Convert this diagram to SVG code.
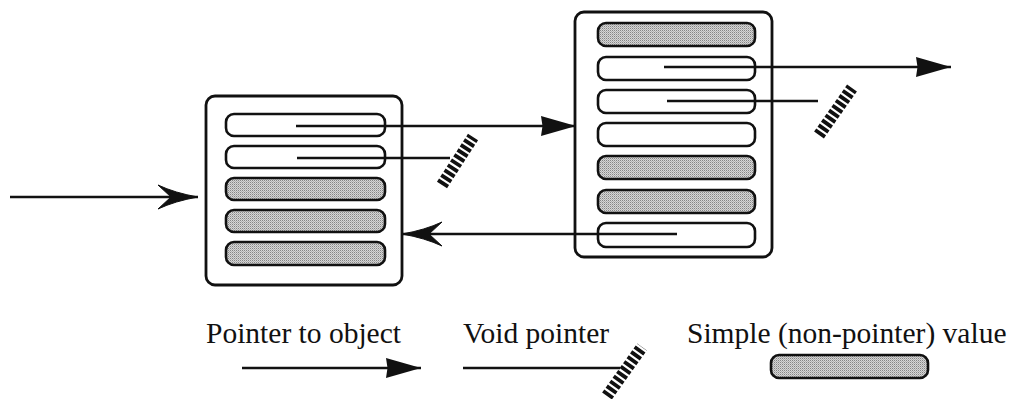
<svg xmlns="http://www.w3.org/2000/svg" width="1009" height="399" viewBox="0 0 1009 399">
  <style>
    .frame { fill: #ffffff; stroke: #111; stroke-width: 2.8; }
    .slot { fill: #ffffff; stroke: #111; stroke-width: 2.6; }
    .slot.simple { fill: url(#stipple); }
    .wire { fill: none; stroke: #111; stroke-width: 2.6; }
    .ptr { marker-end: url(#solidHead); }
    .ret { marker-end: url(#barbHead); }
    .hatch { fill: none; stroke: #111; stroke-width: 12; stroke-dasharray: 3.8 2.2; }
    .label { font-family: "Liberation Serif", "Times New Roman", serif; font-size: 29.5px; fill: #111; }
  </style>
  <defs>
    <!-- fine stipple used for non-pointer value slots -->
    <pattern id="stipple" width="2" height="2" patternUnits="userSpaceOnUse">
      <rect width="2" height="2" fill="#d6d6d6"/>
      <rect width="1" height="1" fill="#858585"/>
      <rect x="1" y="1" width="1" height="1" fill="#b0b0b0"/>
    </pattern>
    <marker id="solidHead" markerUnits="userSpaceOnUse" markerWidth="40" markerHeight="26" viewBox="-2 -13 40 26" refX="35" refY="0" orient="auto">
      <path d="M35,0 L0,-10 L1.5,0 L0,10 Z" fill="#111"/>
    </marker>
    <marker id="barbHead" markerUnits="userSpaceOnUse" markerWidth="46" markerHeight="30" viewBox="-2 -15 46 30" refX="40" refY="0" orient="auto">
      <path d="M40,0 Q17,-4 0,-12 L13,0 L0,12 Q17,4 40,0 Z" fill="#111" stroke="#111" stroke-width="1"/>
    </marker>
  </defs>

  <!-- object reached from the incoming reference -->
  <g id="object-a">
    <rect class="frame" x="206" y="96" width="196" height="189" rx="9"/>
    <rect class="slot" x="226" y="114" width="159" height="22" rx="8"/>
    <rect class="slot" x="226" y="146" width="159" height="22" rx="8"/>
    <rect class="slot simple" x="226" y="178" width="159" height="22" rx="8"/>
    <rect class="slot simple" x="226" y="210" width="159" height="22" rx="8"/>
    <rect class="slot simple" x="226" y="242" width="159" height="23" rx="8"/>
  </g>

  <!-- second object -->
  <g id="object-b">
    <rect class="frame" x="575" y="12" width="197" height="245" rx="9"/>
    <rect class="slot simple" x="598" y="23" width="157" height="23" rx="8"/>
    <rect class="slot" x="598" y="57" width="157" height="23" rx="8"/>
    <rect class="slot" x="598" y="90" width="157" height="23" rx="8"/>
    <rect class="slot" x="598" y="123" width="157" height="23" rx="8"/>
    <rect class="slot simple" x="598" y="156" width="157" height="23" rx="8"/>
    <rect class="slot simple" x="598" y="190" width="157" height="23" rx="8"/>
    <rect class="slot" x="598" y="223" width="157" height="24" rx="8"/>
  </g>

  <!-- references between objects -->
  <g id="connectors">
    <line class="wire ret" x1="10" y1="197" x2="198" y2="197"/>
    <line class="wire ptr" x1="296" y1="126" x2="576" y2="126"/>
    <line class="wire" x1="297" y1="158" x2="450" y2="158"/>
    <line class="hatch" x1="442" y1="185" x2="473" y2="137"/>
    <line class="wire ptr" x1="664" y1="67" x2="951" y2="67"/>
    <line class="wire" x1="667" y1="101" x2="818" y2="101"/>
    <line class="hatch" x1="819" y1="135" x2="852" y2="88"/>
    <line class="wire ret" x1="677" y1="234" x2="402" y2="234"/>
  </g>

  <!-- key -->
  <g id="legend-pointer">
    <text class="label" x="206" y="343">Pointer to object</text>
    <line class="wire ptr" x1="242" y1="368" x2="421" y2="368"/>
  </g>
  <g id="legend-void">
    <text class="label" x="463" y="343">Void pointer</text>
    <line class="wire" x1="463" y1="368" x2="620" y2="368"/>
    <line class="hatch" x1="607" y1="396" x2="642" y2="347"/>
  </g>
  <g id="legend-simple">
    <text class="label" x="687" y="343">Simple (non-pointer) value</text>
    <rect class="slot simple" x="771" y="355" width="157" height="23" rx="8"/>
  </g>
</svg>
